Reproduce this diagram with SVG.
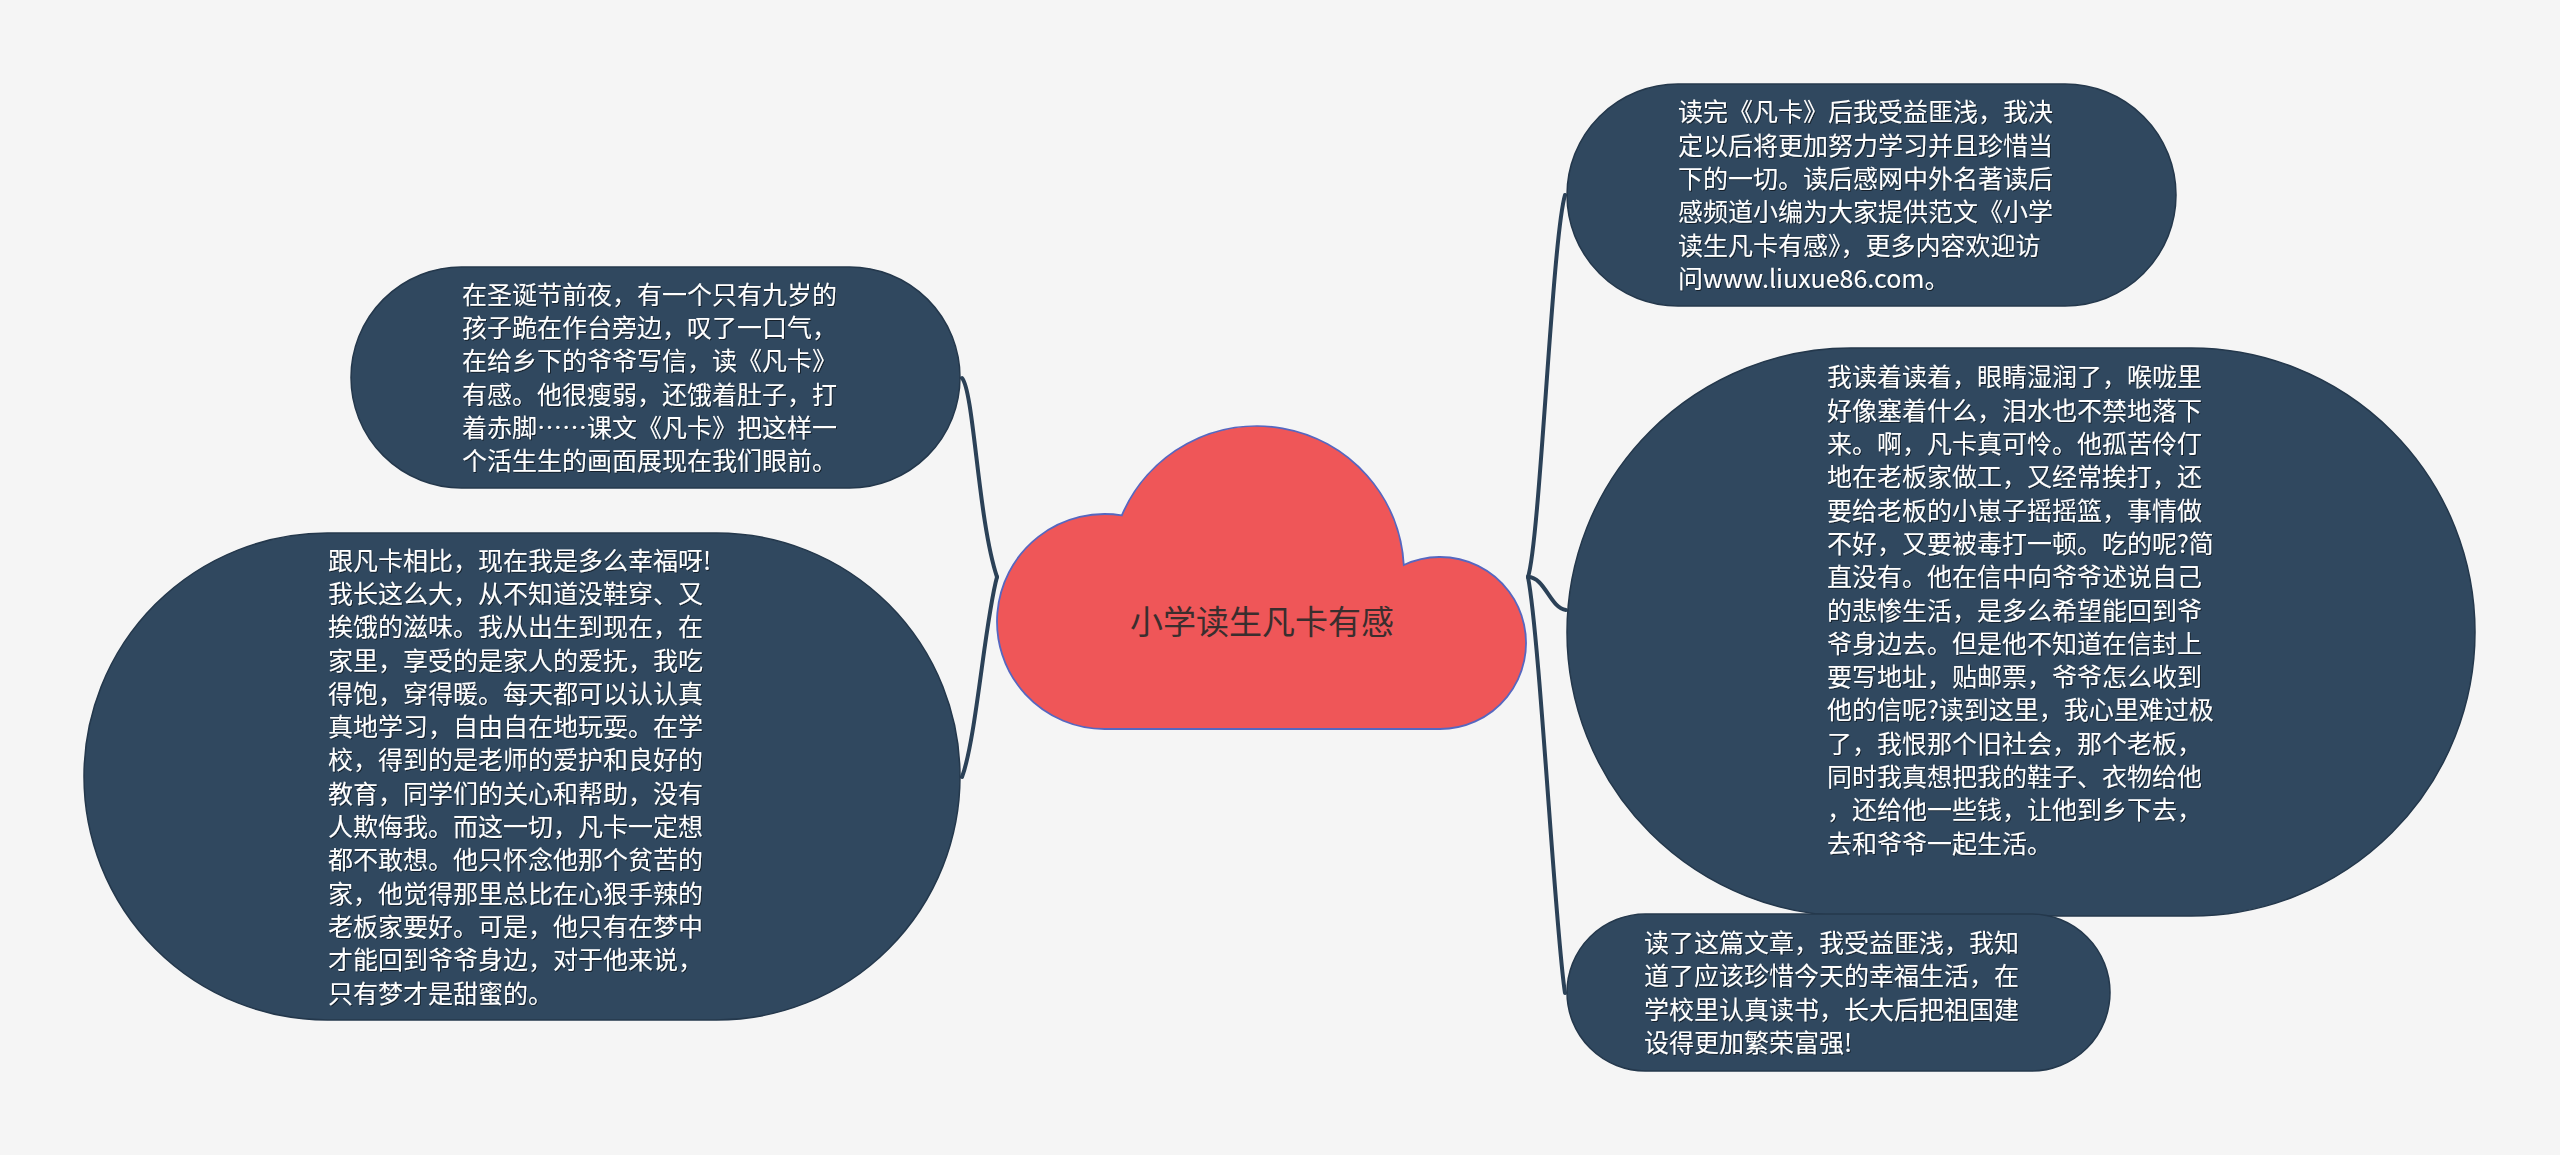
<svg xmlns="http://www.w3.org/2000/svg" width="2560" height="1155" viewBox="0 0 2560 1155">
  <defs>
    <filter id="ts" x="-5%" y="-20%" width="110%" height="140%">
      <feDropShadow dx="1" dy="1" stdDeviation="0.6" flood-color="#000" flood-opacity="0.55"/>
    </filter>
  </defs>
  <style>
    .bg { fill: #f5f5f5; }
    .node { fill: #30485f; stroke: #24384c; stroke-width: 1.5; }
    .txt { font-family: "Microsoft YaHei", "Noto Sans CJK SC", "Noto Sans", sans-serif; font-size: 25px; fill: #ffffff; filter: url(#ts); }
    .conn { fill: none; stroke: #2b4157; stroke-width: 4; stroke-linecap: round; stroke-linejoin: round; }
    .cloud { fill: #ef5658; stroke: #5667c0; stroke-width: 1.8; }
    .ctxt { font-family: "Microsoft YaHei", "Noto Sans CJK SC", "Noto Sans", sans-serif; font-size: 33px; fill: #3a2e2e; }
  </style>
  <rect class="bg" x="0" y="0" width="2560" height="1155"/>

  <g id="connectors">
    <path class="conn" d="M 962 378 C 974 392, 978 520, 997 577"/>
    <path class="conn" d="M 997 577 C 985 620, 976 740, 962 777"/>
    <path class="conn" d="M 1528 577 C 1540 540, 1552 240, 1565 195"/>
    <path class="conn" d="M 1528 577 C 1545 577, 1550 608, 1566 610"/>
    <path class="conn" d="M 1528 577 C 1540 640, 1555 930, 1565 993"/>
  </g>

  <g id="root">
    <path class="cloud" d="M 1104.5 729 A 107.5 107.5 0 1 1 1121.8 515.4 A 147 147 0 0 1 1403.8 565 A 86 86 0 1 1 1440 729 Z"/>
    <text class="ctxt" x="1262" y="634" text-anchor="middle">小学读生凡卡有感</text>
  </g>

  <g id="node-1">
    <rect class="node" x="351" y="267" width="609" height="221" rx="110.5" ry="110.5"/>
    <text class="txt">
      <tspan x="462" y="303.8">在圣诞节前夜，有一个只有九岁的</tspan>
      <tspan x="462" y="337.1">孩子跪在作台旁边，叹了一口气，</tspan>
      <tspan x="462" y="370.4">在给乡下的爷爷写信，读《凡卡》</tspan>
      <tspan x="462" y="403.7">有感。他很瘦弱，还饿着肚子，打</tspan>
      <tspan x="462" y="437.0">着赤脚……课文《凡卡》把这样一</tspan>
      <tspan x="462" y="470.3">个活生生的画面展现在我们眼前。</tspan>
    </text>
  </g>

  <g id="node-2">
    <rect class="node" x="84" y="533" width="876" height="487" rx="243.5" ry="243.5"/>
    <text class="txt">
      <tspan x="328" y="569.6">跟凡卡相比，现在我是多么幸福呀!</tspan>
      <tspan x="328" y="602.9">我长这么大，从不知道没鞋穿、又</tspan>
      <tspan x="328" y="636.2">挨饿的滋味。我从出生到现在，在</tspan>
      <tspan x="328" y="669.5">家里，享受的是家人的爱抚，我吃</tspan>
      <tspan x="328" y="702.8">得饱，穿得暖。每天都可以认认真</tspan>
      <tspan x="328" y="736.1">真地学习，自由自在地玩耍。在学</tspan>
      <tspan x="328" y="769.4">校，得到的是老师的爱护和良好的</tspan>
      <tspan x="328" y="802.7">教育，同学们的关心和帮助，没有</tspan>
      <tspan x="328" y="836.0">人欺侮我。而这一切，凡卡一定想</tspan>
      <tspan x="328" y="869.3">都不敢想。他只怀念他那个贫苦的</tspan>
      <tspan x="328" y="902.6">家，他觉得那里总比在心狠手辣的</tspan>
      <tspan x="328" y="935.9">老板家要好。可是，他只有在梦中</tspan>
      <tspan x="328" y="969.2">才能回到爷爷身边，对于他来说，</tspan>
      <tspan x="328" y="1002.5">只有梦才是甜蜜的。</tspan>
    </text>
  </g>

  <g id="node-3">
    <rect class="node" x="1567" y="84" width="609" height="222" rx="111" ry="111"/>
    <text class="txt">
      <tspan x="1678" y="121.3">读完《凡卡》后我受益匪浅，我决</tspan>
      <tspan x="1678" y="154.6">定以后将更加努力学习并且珍惜当</tspan>
      <tspan x="1678" y="187.9">下的一切。读后感网中外名著读后</tspan>
      <tspan x="1678" y="221.2">感频道小编为大家提供范文《小学</tspan>
      <tspan x="1678" y="254.5">读生凡卡有感》，更多内容欢迎访</tspan>
      <tspan x="1678" y="287.8">问www.liuxue86.com。</tspan>
    </text>
  </g>

  <g id="node-4">
    <rect class="node" x="1567" y="348" width="908" height="568" rx="284" ry="284"/>
    <text class="txt">
      <tspan x="1827" y="386.4">我读着读着，眼睛湿润了，喉咙里</tspan>
      <tspan x="1827" y="419.7">好像塞着什么，泪水也不禁地落下</tspan>
      <tspan x="1827" y="453.0">来。啊，凡卡真可怜。他孤苦伶仃</tspan>
      <tspan x="1827" y="486.3">地在老板家做工，又经常挨打，还</tspan>
      <tspan x="1827" y="519.6">要给老板的小崽子摇摇篮，事情做</tspan>
      <tspan x="1827" y="552.9">不好，又要被毒打一顿。吃的呢?简</tspan>
      <tspan x="1827" y="586.2">直没有。他在信中向爷爷述说自己</tspan>
      <tspan x="1827" y="619.5">的悲惨生活，是多么希望能回到爷</tspan>
      <tspan x="1827" y="652.8">爷身边去。但是他不知道在信封上</tspan>
      <tspan x="1827" y="686.1">要写地址，贴邮票，爷爷怎么收到</tspan>
      <tspan x="1827" y="719.4">他的信呢?读到这里，我心里难过极</tspan>
      <tspan x="1827" y="752.7">了，我恨那个旧社会，那个老板，</tspan>
      <tspan x="1827" y="786.0">同时我真想把我的鞋子、衣物给他</tspan>
      <tspan x="1827" y="819.3">，还给他一些钱，让他到乡下去，</tspan>
      <tspan x="1827" y="852.6">去和爷爷一起生活。</tspan>
    </text>
  </g>

  <g id="node-5">
    <rect class="node" x="1567" y="914" width="543" height="157" rx="78.5" ry="78.5"/>
    <text class="txt">
      <tspan x="1644" y="952.1">读了这篇文章，我受益匪浅，我知</tspan>
      <tspan x="1644" y="985.4">道了应该珍惜今天的幸福生活，在</tspan>
      <tspan x="1644" y="1018.7">学校里认真读书，长大后把祖国建</tspan>
      <tspan x="1644" y="1052.0">设得更加繁荣富强!</tspan>
    </text>
  </g>
</svg>
